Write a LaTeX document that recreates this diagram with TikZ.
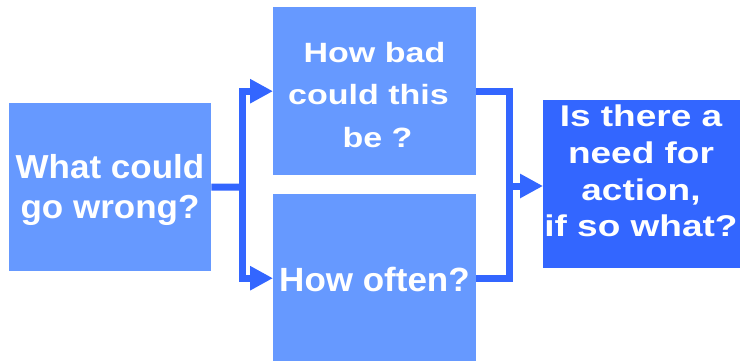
\documentclass[tikz,border=0pt]{standalone}
\usepackage{fontspec}
\usepackage{graphicx}
\setmainfont{Liberation Sans}
\usetikzlibrary{arrows.meta}

\definecolor{boxlight}{HTML}{6699FF}
\definecolor{boxdark}{HTML}{3366FF}
\definecolor{linkblue}{HTML}{3366FF}

% lines of a box text: #1 font size, #2 baselineskip, #3 vertical scale, #4 lines
\newcommand\boxlines[4]{\scalebox{1}[#3]{\fontsize{#1}{#2}\selectfont
  \begin{tabular}{@{}c@{}}#4\end{tabular}}}

\tikzset{
  qbox/.style={fill=boxlight, draw=none, inner sep=0pt, anchor=north west,
               minimum height=168pt},
  abox/.style={qbox, fill=boxdark},
  qtext/.style={inner sep=0pt, text=white, font=\bfseries},
  conn/.style={draw=linkblue, line width=7pt, line join=miter},
  arrowed/.style={-{Triangle[length=23pt,width=23pt]}},
}

\begin{document}
\begin{tikzpicture}[x=1pt, y=-1pt]
  \fill[white] (0,0) rectangle (740,360);
  \useasboundingbox (0,0) rectangle (740,360);

  % boxes
  \node[qbox, minimum width=202pt] (q1) at (9,103) {};
  \node[qbox, minimum width=203pt] (bad) at (273,7) {};
  \node[qbox, minimum width=203pt] (often) at (273,194) {};
  \node[abox, minimum width=197pt] (act) at (543,100) {};

  % texts
  \node[qtext] (q1t) at (110,190)
    {\boxlines{35}{42.1}{0.95}{What could\\go wrong?}};
  \node[qtext] (badt) at (374.5,96.4)
    {\boxlines{34}{52.4}{0.82}{How bad\\could this\kern12pt\\\kern6pt be ?}};
  \node[qtext] (oftent) at (374.5,283)
    {\boxlines{35}{42}{0.96}{How often?}};
  \node[qtext] (actt) at (641,174.4)
    {\boxlines{37}{45.3}{0.81}{Is there a\\need for\\action,\\if so what?}};

  % junction points
  \coordinate (j1) at (242,187);
  \coordinate (j2) at (509,186);

  % fork out of the first question
  \draw[conn] (q1.east) -- (j1);
  \draw[conn, arrowed] (j1) |- (bad.west);
  \draw[conn, arrowed] (j1) |- (often.west);

  % merge into the decision box
  \draw[conn] (bad.east) -| (j2) |- (often.east);
  \draw[conn, arrowed] (j2) -- (act.west |- j2);
\end{tikzpicture}
\end{document}
